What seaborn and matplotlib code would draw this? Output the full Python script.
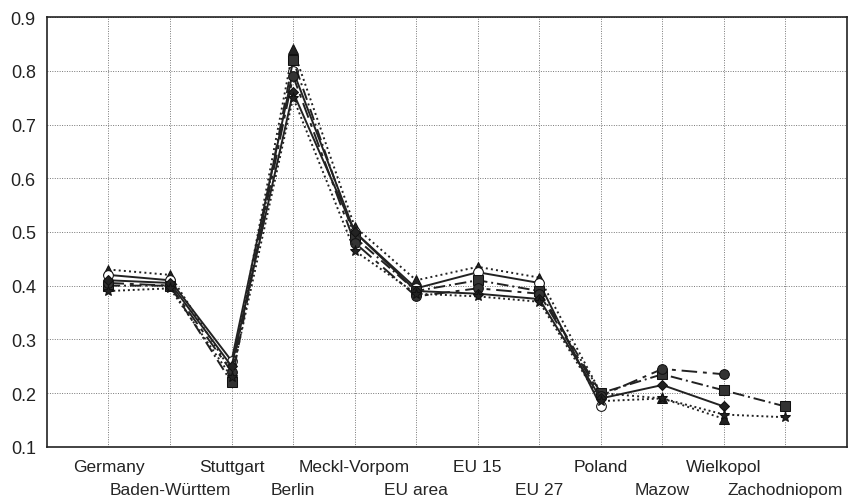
import numpy as np
import pandas as pd
import matplotlib
matplotlib.use("Agg")
import matplotlib.pyplot as plt
import seaborn as sns

regions = ["Germany", "Baden-Württem", "Stuttgart", "Berlin", "Meckl-Vorpom", "EU area",
           "EU 15", "EU 27", "Poland", "Mazow", "Wielkopol", "Zachodniopom"]

s_tri = [0.43, 0.42, 0.24, 0.84, 0.51, 0.41, 0.435, 0.415, 0.20, 0.19, 0.152, np.nan]
s_open = [0.42, 0.41, 0.26, 0.80, 0.50, 0.395, 0.425, 0.405, 0.175, np.nan, np.nan, np.nan]
s_sq = [0.40, 0.40, 0.22, 0.82, 0.49, 0.39, 0.41, 0.39, 0.20, 0.235, 0.205, 0.175]
s_circ = [0.405, 0.40, 0.24, 0.79, 0.48, 0.38, 0.395, 0.385, 0.195, 0.245, 0.235, np.nan]
s_dia = [0.41, 0.405, 0.25, 0.76, 0.50, 0.39, 0.385, 0.375, 0.19, 0.215, 0.175, np.nan]
s_ast = [0.39, 0.395, 0.23, 0.75, 0.465, 0.385, 0.38, 0.37, 0.185, 0.19, 0.16, 0.155]

series = [
    (s_tri, dict(marker="^", linestyle=":", mfc="#222222", ms=7)),
    (s_open, dict(marker="o", linestyle="-", mfc="white", ms=7)),
    (s_sq, dict(marker="s", linestyle=(0, (6, 2, 1, 2)), mfc="#333333", ms=7)),
    (s_circ, dict(marker="o", linestyle=(0, (8, 3, 2, 3)), mfc="#333333", ms=7)),
    (s_dia, dict(marker="D", linestyle="-", mfc="#222222", ms=5)),
    (s_ast, dict(marker="*", linestyle=(0, (1, 1.5)), mfc="#222222", ms=8)),
]

sns.set_theme(style="white")
plt.rcParams["font.family"] = ["Liberation Sans", "DejaVu Sans"]

fig = plt.figure(figsize=(8.53, 5.02), dpi=100)
ax = fig.add_axes([0.055, 0.108, 0.938, 0.856])

x = np.arange(len(regions))
for vals, style in series:
    df = pd.DataFrame({"x": x, "y": vals}).dropna()
    sns.lineplot(data=df, x="x", y="y", ax=ax, color="#222222", lw=1.4,
                 mec="#111111", **style)

ax.set_xlim(-1, 12)
ax.set_ylim(0.1, 0.9)
ax.set_yticks(np.arange(0.1, 0.91, 0.1))
ax.set_yticklabels([f"{v:.1f}" for v in np.arange(0.1, 0.91, 0.1)], fontsize=13)

# two rows of category labels: even ones on major ticks, odd ones on minor ticks
ax.set_xticks(x[::2])
ax.set_xticklabels(regions[::2], fontsize=12.5)
ax.set_xticks(x[1::2], minor=True)
ax.set_xticklabels(regions[1::2], minor=True, fontsize=12.5)
ax.tick_params(axis="x", which="major", length=0, pad=9)
ax.tick_params(axis="x", which="minor", length=0, pad=25)

ax.set_xlabel("")
ax.set_ylabel("")
ax.grid(True, which="both", axis="x", color="#777777", linestyle=(0, (1, 1.5)), lw=0.7)
ax.grid(True, which="major", axis="y", color="#777777", linestyle=(0, (1, 1.5)), lw=0.7)
for sp in ax.spines.values():
    sp.set_color("#222222")
    sp.set_linewidth(1.2)
ax.tick_params(axis="y", length=0, pad=8, colors="#222222")
ax.tick_params(axis="x", colors="#222222")

fig.savefig("out.png", dpi=100)
